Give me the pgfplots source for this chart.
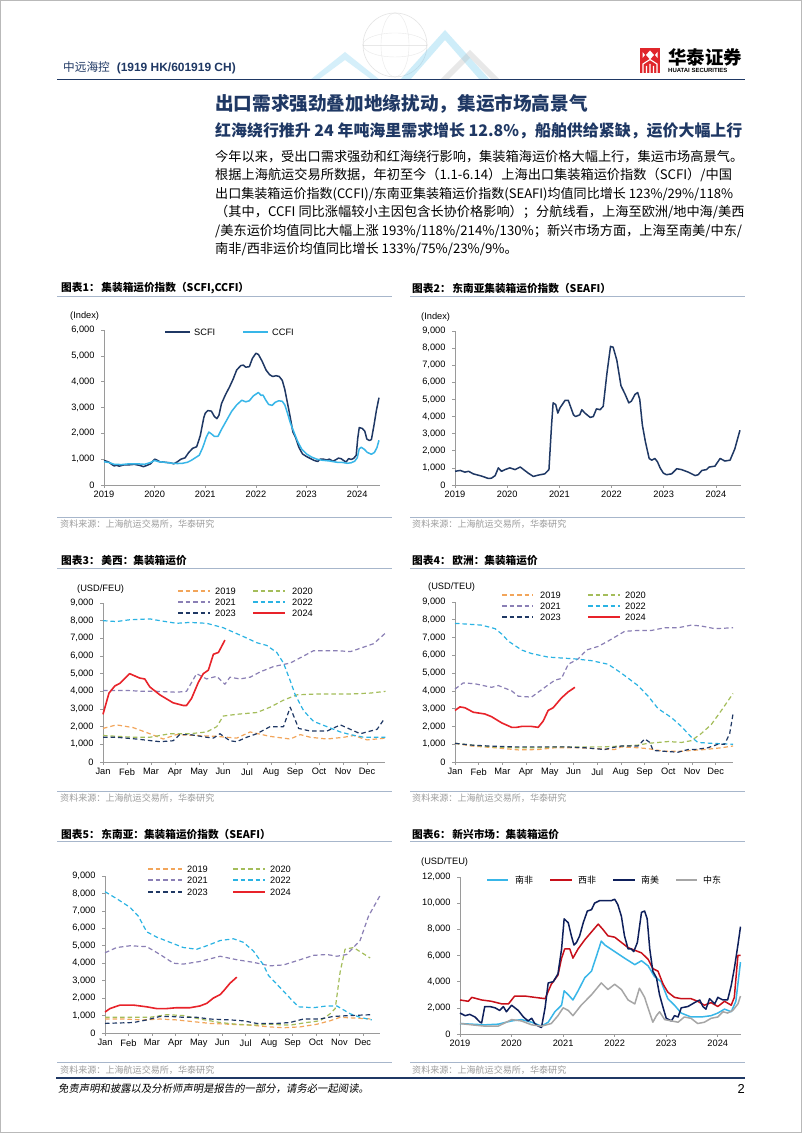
\documentclass[border=0pt]{standalone}
\usepackage{pgfplots}
\pgfplotsset{compat=1.18}
\usepackage{fontspec}
\setmainfont{Liberation Sans}
\newfontfamily\cjk{Noto Sans CJK SC}
\newfontfamily\cjkit[FakeSlant=0.18]{Noto Sans CJK SC}
\definecolor{navy}{HTML}{1F3864}
\definecolor{dnavy}{HTML}{0E1F5B}
\definecolor{lblue}{HTML}{38B6E8}
\definecolor{corange}{HTML}{F2A55A}
\definecolor{cgreen}{HTML}{A4BD5A}
\definecolor{cpurple}{HTML}{8A7FB5}
\definecolor{ccyan}{HTML}{2AB3E3}
\definecolor{cred}{HTML}{E8232A}
\definecolor{wred}{HTML}{C8101A}
\definecolor{cgray}{HTML}{A6A6A6}
\definecolor{axgray}{HTML}{9A9A9A}
\definecolor{tline}{HTML}{A7B6CB}
\definecolor{srcgray}{HTML}{9C9C9C}
\definecolor{hred}{HTML}{E0262B}
\newcommand\fs[1]{\fontsize{#1}{#1}\selectfont}
\newcommand\tf{\fontsize{9.3}{10}\selectfont}
\tikzset{dsh/.style={line width=1.2bp, dash pattern=on 4.5bp off 3bp}}
\pgfplotsset{
  base/.style={
    scale only axis, anchor=south west,
    axis lines=left, axis line style={-, draw=axgray, line width=0.6bp},
    tick align=outside, major tick length=3bp,
    tick style={draw=axgray, line width=0.6bp},
    ticklabel style={font=\tf, text=black},
    /pgf/number format/assume math mode=true,
    scaled ticks=false,
    yticklabel style={/pgf/number format/fixed, /pgf/number format/1000 sep={,}, xshift=-3bp},
    enlargelimits=false, clip=false,
    every axis plot/.append style={line join=round},
  },
  yr/.style={xtick={2019,...,2024}, xticklabel style={/pgf/number format/1000 sep={}}},
  mo/.style={xtick={0,...,11}, xticklabels={Jan,Feb,Mar,Apr,May,Jun,Jul,Aug,Sep,Oct,Nov,Dec}},
}
\begin{document}
\begin{tikzpicture}[x=1bp,y=1bp]
\path[use as bounding box, fill=white] (0,0) rectangle (802,1133);
\draw[gray!55, line width=0.8bp] (0.4,0.4) rectangle (801.6,1132.6);

\begin{scope}[yshift=1133bp, y=-1bp, every node/.style={inner sep=0pt}]
% decoration (globe)
\begin{scope}[opacity=0.35]
\draw[gray!60, line width=0.6bp] (395,45) circle (32);
\draw[gray!50, line width=0.4bp] (395,45) ellipse (14 and 32);
\draw[gray!50, line width=0.4bp] (395,45) ellipse (32 and 12);
\draw[gray!50, line width=0.4bp] (363,45)--(427,45);
\fill[lblue!60] (310,80)--(345,52)--(380,80)--(372,80)--(345,60)--(318,80)--cycle;
\fill[lblue!70] (400,80)--(445,30)--(490,80)--(480,80)--(445,40)--(410,80)--cycle;
\fill[gray!50] (440,80)--(470,50)--(500,80)--(492,80)--(470,58)--(448,80)--cycle;
\end{scope}
% header
\node[anchor=west, text=navy] at (63,68) {{\cjk\fs{11.7}中远海控}\hspace{7bp}{\fs{12}\bfseries(1919 HK/601919 CH)}};
\draw[navy, line width=1.8bp] (57,79.5)--(745,79.5);
% logo
\fill[hred] (640,48) rectangle (660,73);
\fill[white] (650,50.5)--(654,55)--(650,59.5)--(646,55)--cycle;
\fill[white] (642.5,52)--(645,55)--(642.5,58)--cycle;
\fill[white] (657.5,52)--(655,55)--(657.5,58)--cycle;
\draw[white, line width=1.1bp] (643,73)--(643,64)--(650,59.5)--(657,64)--(657,73) (646.5,73)--(646.5,66) (650,73)--(650,64) (653.5,73)--(653.5,66);
\node[anchor=west] at (668,57) {\cjk\bfseries\fs{18.5}华泰证券};
\node[anchor=west] at (668,70.5) {\bfseries\fs{6}HUATAI SECURITIES};
% titles
\node[anchor=west, text=navy] at (215,104) {\cjk\bfseries\fs{18.7}出口需求强劲叠加地缘扰动，集运市场高景气};
\node[anchor=west, text=navy] at (215,131) {\cjk\bfseries\fs{16}红海绕行推升 24 年吨海里需求增长 12.8\%，船舶供给紧缺，运价大幅上行};
% body
\begin{scope}[every node/.append style={anchor=west}]
\node at (215,157) {\cjk\fs{13.25}今年以来，受出口需求强劲和红海绕行影响，集装箱海运价格大幅上行，集运市场高景气。};
\node at (215,175.5) {\cjk\fs{13.25}根据上海航运交易所数据，年初至今（1.1-6.14）上海出口集装箱运价指数（SCFI）/中国};
\node at (215,194) {\cjk\fs{13.1}出口集装箱运价指数(CCFI)/东南亚集装箱运价指数(SEAFI)均值同比增长 123\%/29\%/118\%};
\node at (215,212.5) {\cjk\fs{13.25}（其中，CCFI 同比涨幅较小主因包含长协价格影响）；分航线看，上海至欧洲/地中海/美西};
\node at (215,231) {\cjk\fs{13.25}/美东运价均值同比大幅上涨 193\%/118\%/214\%/130\%；新兴市场方面，上海至南美/中东/};
\node at (215,249.5) {\cjk\fs{13.25}南非/西非运价均值同比增长 133\%/75\%/23\%/9\%。};
% chart titles
\node at (61,288) {\cjk\bfseries\fs{10.7}图表1：\,集装箱运价指数（SCFI,CCFI）};
\node at (412,288) {\cjk\bfseries\fs{10.7}图表2：\,东南亚集装箱运价指数（SEAFI）};
\node at (61,561) {\cjk\bfseries\fs{10.7}图表3：\,美西：集装箱运价};
\node at (412,561) {\cjk\bfseries\fs{10.7}图表4：\,欧洲：集装箱运价};
\node at (61,834) {\cjk\bfseries\fs{10.7}图表5：\,东南亚：集装箱运价指数（SEAFI）};
\node at (412,834) {\cjk\bfseries\fs{10.7}图表6：\,新兴市场：集装箱运价};
% sources
\foreach \yy in {524.5,798,1070} {
  \node[text=srcgray] at (60,\yy) {\cjk\fs{9.1}资料来源：上海航运交易所，华泰研究};
  \node[text=srcgray] at (412,\yy) {\cjk\fs{9.1}资料来源：上海航运交易所，华泰研究};
}
% unit labels
\node at (70,316) {\tf(Index)};
\node at (421,317) {\tf(Index)};
\node at (77,589) {\tf(USD/FEU)};
\node at (428,587) {\tf(USD/TEU)};
\node at (421,862) {\tf(USD/TEU)};
\end{scope}
\foreach \yy in {296,568,841} {
  \draw[tline, line width=0.9bp] (57,\yy)--(392,\yy);
  \draw[tline, line width=0.9bp] (410,\yy)--(745,\yy);
}
\foreach \yy in {517,791,1062} {
  \draw[tline, line width=0.9bp] (57,\yy)--(392,\yy);
  \draw[tline, line width=0.9bp] (410,\yy)--(745,\yy);
}
% footer
\draw[navy, line width=2bp] (56,1078)--(745,1078);
\node[anchor=west] at (58,1089) {\cjkit\fs{10.4}免责声明和披露以及分析师声明是报告的一部分，请务必一起阅读。};
\node[anchor=east] at (745,1089) {\fs{13}2};
% legends chart 1
\draw[navy, line width=2bp] (165,332)--(190,332); \node[anchor=west] at (194,332) {\tf SCFI};
\draw[lblue, line width=2bp] (243,332)--(268,332); \node[anchor=west] at (272,332) {\tf CCFI};
% legend chart 3
\draw[corange, dsh] (178,591)--(210,591); \node[anchor=west] at (215,591) {\tf 2019};
\draw[cpurple, dsh] (178,602)--(210,602); \node[anchor=west] at (215,602) {\tf 2021};
\draw[navy, dsh] (178,613)--(210,613); \node[anchor=west] at (215,613) {\tf 2023};
\draw[cgreen, dsh] (253,591)--(285,591); \node[anchor=west] at (292,591) {\tf 2020};
\draw[ccyan, dsh] (253,602)--(285,602); \node[anchor=west] at (292,602) {\tf 2022};
\draw[cred, line width=1.6bp] (253,613)--(285,613); \node[anchor=west] at (292,613) {\tf 2024};
% legend chart 4
\draw[corange, dsh] (502,595)--(533,595); \node[anchor=west] at (540,595) {\tf 2019};
\draw[cpurple, dsh] (502,606)--(533,606); \node[anchor=west] at (540,606) {\tf 2021};
\draw[navy, dsh] (502,617)--(533,617); \node[anchor=west] at (540,617) {\tf 2023};
\draw[cgreen, dsh] (588,595)--(620,595); \node[anchor=west] at (625,595) {\tf 2020};
\draw[ccyan, dsh] (588,606)--(620,606); \node[anchor=west] at (625,606) {\tf 2022};
\draw[cred, line width=1.6bp] (588,617)--(620,617); \node[anchor=west] at (625,617) {\tf 2024};
% legend chart 5
\draw[corange, dsh] (148,869)--(182,869); \node[anchor=west] at (187,869) {\tf 2019};
\draw[cpurple, dsh] (148,880)--(182,880); \node[anchor=west] at (187,880) {\tf 2021};
\draw[navy, dsh] (148,892)--(182,892); \node[anchor=west] at (187,892) {\tf 2023};
\draw[cgreen, dsh] (233,869)--(265,869); \node[anchor=west] at (270,869) {\tf 2020};
\draw[ccyan, dsh] (233,880)--(265,880); \node[anchor=west] at (270,880) {\tf 2022};
\draw[cred, line width=1.6bp] (233,892)--(265,892); \node[anchor=west] at (270,892) {\tf 2024};
% legend chart 6
\draw[lblue, line width=2bp] (487,880)--(508,880); \node[anchor=west] at (515,880) {\cjk\fs{9}南非};
\draw[wred, line width=2bp] (550,880)--(572,880); \node[anchor=west] at (578,880) {\cjk\fs{9}西非};
\draw[dnavy, line width=2bp] (613,880)--(635,880); \node[anchor=west] at (641,880) {\cjk\fs{9}南美};
\draw[cgray, line width=2bp] (676,880)--(697,880); \node[anchor=west] at (703,880) {\cjk\fs{9}中东};
\end{scope}

% ---------- Chart 1 ----------
\begin{axis}[base, yr, at={(104bp,648bp)}, width=276bp, height=155bp,
  xmin=2019, xmax=2024.45, ymin=0, ymax=6000, ytick={0,1000,...,6000}]
\addplot[navy, line width=1.5bp] coordinates {(2019.00,950)(2019.05,920)(2019.10,880)(2019.15,800)(2019.20,740)(2019.25,760)(2019.30,730)(2019.40,780)(2019.50,780)(2019.60,800)(2019.70,760)(2019.78,710)(2019.85,760)(2019.92,820)(2020.00,1000)(2020.05,960)(2020.10,900)(2020.20,880)(2020.30,860)(2020.38,820)(2020.45,900)(2020.52,1000)(2020.60,1050)(2020.67,1250)(2020.75,1420)(2020.83,1480)(2020.90,1900)(2020.97,2600)(2021.00,2780)(2021.05,2880)(2021.12,2860)(2021.18,2650)(2021.23,2570)(2021.27,2700)(2021.32,3150)(2021.40,3500)(2021.48,3800)(2021.55,4100)(2021.62,4450)(2021.70,4620)(2021.75,4640)(2021.80,4560)(2021.87,4580)(2021.93,4900)(2022.00,5100)(2022.05,5050)(2022.12,4800)(2022.20,4450)(2022.27,4270)(2022.33,4200)(2022.40,4230)(2022.46,4200)(2022.52,4050)(2022.57,3700)(2022.62,3200)(2022.67,2700)(2022.73,2050)(2022.78,1850)(2022.85,1450)(2022.92,1200)(2023.00,1100)(2023.08,1020)(2023.15,950)(2023.22,910)(2023.27,1000)(2023.33,1000)(2023.40,970)(2023.45,1000)(2023.52,920)(2023.58,980)(2023.63,1040)(2023.68,1020)(2023.73,950)(2023.78,890)(2023.83,1020)(2023.88,990)(2023.93,1030)(2023.98,1150)(2024.01,1800)(2024.04,2220)(2024.10,2190)(2024.15,2080)(2024.19,1780)(2024.24,1720)(2024.28,1760)(2024.33,2300)(2024.38,2900)(2024.43,3380)};
\addplot[lblue, line width=1.5bp] coordinates {(2019.00,900)(2019.10,870)(2019.20,800)(2019.35,790)(2019.50,820)(2019.65,820)(2019.80,800)(2019.92,870)(2020.00,950)(2020.08,900)(2020.20,880)(2020.35,840)(2020.45,830)(2020.55,840)(2020.65,880)(2020.72,950)(2020.80,1050)(2020.88,1150)(2020.95,1450)(2021.02,1850)(2021.07,2050)(2021.12,1980)(2021.18,1880)(2021.25,1880)(2021.32,2150)(2021.42,2500)(2021.52,2850)(2021.62,3100)(2021.72,3280)(2021.80,3220)(2021.87,3260)(2021.95,3450)(2022.05,3580)(2022.10,3470)(2022.14,3480)(2022.19,3300)(2022.25,3120)(2022.32,3080)(2022.38,3200)(2022.45,3260)(2022.52,3240)(2022.57,3100)(2022.62,2800)(2022.68,2400)(2022.75,2050)(2022.82,1700)(2022.90,1400)(2023.00,1200)(2023.10,1080)(2023.20,1000)(2023.30,960)(2023.45,930)(2023.60,880)(2023.72,870)(2023.80,840)(2023.88,860)(2023.95,920)(2024.00,1050)(2024.04,1400)(2024.08,1460)(2024.14,1380)(2024.20,1260)(2024.28,1190)(2024.34,1260)(2024.39,1450)(2024.43,1730)};
\end{axis}

% ---------- Chart 2 ----------
\begin{axis}[base, yr, at={(455bp,648bp)}, width=286bp, height=154bp,
  xmin=2019, xmax=2024.48, ymin=0, ymax=9000, ytick={0,1000,...,9000}]
\addplot[navy, line width=1.5bp] coordinates {(2019.00,800)(2019.10,850)(2019.19,750)(2019.26,800)(2019.35,650)(2019.51,520)(2019.64,380)(2019.70,400)(2019.77,550)(2019.83,1000)(2019.89,800)(2019.96,900)(2020.05,1000)(2020.15,900)(2020.25,1050)(2020.40,700)(2020.50,500)(2020.60,580)(2020.72,650)(2020.80,900)(2020.85,3500)(2020.88,4800)(2020.93,4700)(2020.97,4200)(2021.01,4500)(2021.11,4950)(2021.17,4950)(2021.27,4100)(2021.31,4000)(2021.39,4100)(2021.43,4400)(2021.49,4200)(2021.59,3950)(2021.65,4000)(2021.71,4450)(2021.78,4400)(2021.84,4600)(2021.91,6500)(2021.98,8100)(2022.03,8050)(2022.10,7300)(2022.18,5800)(2022.26,5300)(2022.33,4800)(2022.38,4900)(2022.45,5300)(2022.50,5400)(2022.54,5000)(2022.59,3500)(2022.65,2500)(2022.72,1550)(2022.77,1450)(2022.83,1550)(2022.88,1350)(2022.93,1000)(2022.99,700)(2023.05,600)(2023.15,650)(2023.25,950)(2023.34,900)(2023.47,750)(2023.60,550)(2023.66,600)(2023.73,850)(2023.82,900)(2023.87,1050)(2023.98,1100)(2024.08,1550)(2024.17,1400)(2024.27,1450)(2024.36,2100)(2024.46,3200)};
\end{axis}

% ---------- Chart 3 ----------
\begin{axis}[base, mo, at={(103bp,371bp)}, width=282bp, height=159bp,
  xmin=0, xmax=11.75, ymin=0, ymax=9000, ytick={0,1000,...,9000}]
\addplot[corange, dsh] coordinates {(0,1900)(0.56,2100)(1.25,1950)(1.95,1600)(2.51,1300)(3.06,1550)(3.90,1500)(4.74,1450)(5.57,1350)(6.13,1700)(6.96,1450)(7.80,1300)(8.22,1550)(8.64,1400)(9.33,1300)(10.03,1400)(10.45,1500)(11.00,1250)(11.77,1350)};
\addplot[cgreen, dsh] coordinates {(0,1500)(1.25,1400)(1.95,1400)(2.37,1500)(2.79,1600)(3.62,1600)(4.32,1700)(4.74,2000)(5.01,2600)(5.57,2700)(6.41,2800)(6.96,3100)(7.52,3500)(8.08,3800)(8.91,3850)(10.31,3850)(11.14,3900)(11.77,4000)};
\addplot[cpurple, dsh] coordinates {(0,4050)(0.97,4050)(1.67,4000)(2.23,4000)(3.06,3950)(3.48,4000)(3.90,5000)(4.32,4700)(4.74,4850)(5.08,4400)(5.29,4800)(5.71,4700)(6.13,4800)(6.55,5100)(7.10,5400)(7.80,5600)(8.36,6000)(8.77,6300)(9.75,6300)(10.31,6250)(10.86,6500)(11.28,6700)(11.77,7300)};
\addplot[ccyan, dsh] coordinates {(0,8000)(0.56,7950)(1.11,8050)(1.95,8100)(2.37,8000)(3.06,7850)(3.62,7900)(4.32,7850)(5.01,7600)(5.85,7100)(6.41,6750)(6.82,6600)(7.24,6200)(7.52,5600)(7.80,4600)(8.01,3800)(8.36,2900)(8.77,2300)(9.33,2000)(9.89,1700)(10.31,1550)(10.86,1400)(11.77,1400)};
\addplot[navy, dsh] coordinates {(0,1400)(0.56,1400)(1.39,1300)(2.37,1150)(2.92,1200)(3.20,1550)(3.62,1550)(4.32,1400)(4.60,1350)(4.87,1600)(5.29,1200)(5.57,1150)(5.99,1400)(6.41,1600)(6.96,2000)(7.52,2000)(7.80,3100)(8.15,1900)(8.64,1750)(9.33,1750)(9.89,2100)(10.72,1600)(11.42,1850)(11.70,2400)};
\addplot[cred, line width=1.6bp] coordinates {(0,2700)(0.25,3900)(0.49,4300)(0.70,4450)(1.11,5000)(1.53,4750)(1.74,4700)(1.95,4250)(2.37,3800)(2.92,3350)(3.34,3200)(3.48,3200)(3.69,3600)(3.97,4500)(4.18,5000)(4.39,5200)(4.60,6100)(4.81,6200)(5.08,6900)};
\end{axis}

% ---------- Chart 4 ----------
\begin{axis}[base, mo, at={(455bp,371bp)}, width=278bp, height=160bp,
  xmin=0, xmax=11.73, ymin=0, ymax=9000, ytick={0,1000,...,9000}]
\addplot[corange, dsh] coordinates {(0,1050)(0.7,900)(1.69,800)(2.67,680)(3.51,700)(4.21,800)(5.2,800)(6.04,750)(6.74,700)(7.02,850)(7.72,800)(8.15,750)(8.85,600)(9.55,600)(9.97,650)(10.53,700)(11.24,800)(11.73,900)};
\addplot[cgreen, dsh] coordinates {(0,1050)(0.70,950)(1.54,850)(2.53,800)(3.51,800)(4.35,850)(5.20,850)(6.18,850)(7.16,900)(7.72,950)(8.15,1050)(9.0,1150)(9.55,1100)(9.97,1200)(10.39,1600)(10.81,2100)(11.24,2900)(11.73,3850)};
\addplot[cpurple, dsh] coordinates {(0,4100)(0.35,4450)(0.84,4400)(1.54,4200)(1.83,4300)(2.39,4000)(2.67,3700)(3.23,3650)(3.79,4200)(4.21,4600)(4.49,4700)(4.78,5500)(5.20,5800)(5.55,6300)(6.04,6500)(6.46,6800)(7.16,7350)(7.72,7400)(8.29,7400)(8.85,7550)(9.41,7550)(9.97,7700)(10.39,7650)(10.96,7500)(11.73,7550)};
\addplot[ccyan, dsh] coordinates {(0,7800)(0.56,7750)(1.12,7700)(1.69,7500)(1.97,7200)(2.25,6800)(2.81,6300)(3.23,6100)(3.93,5900)(4.49,5850)(5.06,5800)(5.76,5700)(6.46,5500)(7.02,5000)(7.72,4300)(8.15,3700)(8.57,3000)(9.13,2500)(9.55,2000)(9.97,1400)(10.25,1100)(10.81,1050)(11.73,1000)};
\addplot[navy, dsh] coordinates {(0,1050)(0.7,950)(1.4,900)(2.53,850)(3.51,850)(4.63,850)(5.48,800)(6.32,700)(6.6,800)(7.02,900)(7.72,900)(8.01,1300)(8.22,1100)(8.36,650)(8.85,600)(9.41,550)(9.83,700)(10.11,700)(10.67,800)(11.10,1000)(11.38,1000)(11.59,1600)(11.73,2700)};
\addplot[cred, line width=1.6bp] coordinates {(0,2900)(0.21,3100)(0.42,3050)(0.77,2800)(1.26,2700)(1.54,2550)(1.97,2200)(2.39,1950)(2.60,1950)(2.81,2000)(3.23,2000)(3.51,1950)(3.72,2300)(3.93,2900)(4.14,3050)(4.49,3600)(4.78,3950)(5.06,4200)};
\end{axis}

% ---------- Chart 5 ----------
\begin{axis}[base, mo, at={(105bp,100bp)}, width=275bp, height=157bp,
  xmin=0, xmax=11.73, ymin=0, ymax=9000, ytick={0,1000,...,9000}]
\addplot[corange, dsh] coordinates {(0,800)(0.78,800)(1.64,750)(2.35,800)(3.06,750)(3.77,650)(4.48,550)(5.33,500)(6.19,450)(7.04,350)(7.61,300)(8.32,350)(9.03,500)(9.6,700)(10.03,900)(10.74,850)(11.38,800)};
\addplot[cgreen, dsh] coordinates {(0,900)(1.07,900)(1.92,900)(2.63,1050)(3.34,1000)(4.05,800)(4.91,600)(5.62,500)(6.33,450)(7.04,500)(7.89,450)(8.6,600)(9.17,700)(9.6,1100)(9.82,1400)(10.03,3500)(10.24,4800)(10.6,4900)(11.31,4300)};
\addplot[cpurple, dsh] coordinates {(0,4600)(0.5,4900)(1.07,5000)(1.78,4950)(2.35,4500)(2.92,4000)(3.34,3950)(4.05,4100)(4.91,4400)(5.62,4200)(6.33,4050)(7.04,3850)(7.61,3900)(8.32,4200)(8.89,4450)(9.46,4500)(9.89,4400)(10.31,4500)(10.88,5300)(11.24,6700)(11.74,7900)};
\addplot[ccyan, dsh] coordinates {(0,8100)(0.5,7700)(1.07,7200)(1.42,6700)(1.78,5800)(2.2,5500)(2.77,5200)(3.34,4900)(3.91,4800)(4.34,5000)(4.91,5300)(5.48,5400)(5.9,5200)(6.33,4700)(6.76,3900)(6.97,3300)(7.47,2600)(7.89,2000)(8.25,1500)(8.89,1450)(9.46,1550)(9.89,1550)(10.46,1100)(10.88,900)(11.38,750)};
\addplot[navy, dsh] coordinates {(0,550)(1.21,600)(1.78,750)(2.35,950)(2.77,950)(3.34,900)(3.91,900)(4.48,800)(5.33,750)(5.9,700)(6.47,550)(7.33,550)(7.89,600)(8.46,800)(9.17,800)(9.74,950)(10.46,1000)(11.38,1050)};
\addplot[cred, line width=1.6bp] coordinates {(0,1200)(0.21,1400)(0.64,1600)(1.21,1600)(1.78,1500)(2.2,1400)(2.63,1400)(3.06,1450)(3.63,1450)(4.05,1550)(4.34,1700)(4.62,2000)(4.91,2200)(5.05,2400)(5.33,2850)(5.62,3200)};
\end{axis}

% ---------- Chart 6 ----------
\begin{axis}[base, yr, at={(460bp,99bp)}, width=281bp, height=157bp,
  xmin=2019, xmax=2024.45, ymin=0, ymax=12000, ytick={0,2000,...,12000}]
\addplot[lblue, line width=1.5bp] coordinates {(2019.00,800)(2019.23,750)(2019.48,700)(2019.74,750)(2020.00,1000)(2020.19,1100)(2020.39,900)(2020.58,600)(2020.71,900)(2020.84,1700)(2020.97,2200)(2021.02,3300)(2021.10,3000)(2021.19,2600)(2021.29,3300)(2021.42,4300)(2021.55,4800)(2021.65,6000)(2021.74,7100)(2021.81,6800)(2022.00,6300)(2022.19,5800)(2022.39,5300)(2022.52,5600)(2022.65,5200)(2022.77,4400)(2022.90,4000)(2023.03,2700)(2023.16,2200)(2023.29,1600)(2023.48,1300)(2023.68,1300)(2023.87,1400)(2024.00,1600)(2024.13,1900)(2024.26,1700)(2024.35,2500)(2024.44,5500)};
\addplot[wred, line width=1.5bp] coordinates {(2019.00,2600)(2019.16,2500)(2019.23,2800)(2019.42,2600)(2019.61,2500)(2019.81,2300)(2019.94,2300)(2020.06,2900)(2020.26,2900)(2020.45,2800)(2020.65,2700)(2020.77,3800)(2020.90,4500)(2020.97,5800)(2021.03,6500)(2021.13,6500)(2021.19,5800)(2021.29,6500)(2021.42,7200)(2021.55,7800)(2021.68,8400)(2021.77,8000)(2021.87,7500)(2022.00,7400)(2022.13,7000)(2022.26,6600)(2022.39,6400)(2022.52,6200)(2022.65,5700)(2022.74,5000)(2022.84,4800)(2022.94,3800)(2023.03,3200)(2023.16,2800)(2023.29,2700)(2023.48,2700)(2023.61,2500)(2023.74,2200)(2023.87,2400)(2024.00,2100)(2024.13,2500)(2024.26,2200)(2024.32,2800)(2024.39,6000)(2024.44,6000)};
\addplot[dnavy, line width=1.5bp] coordinates {(2019.00,1600)(2019.10,1400)(2019.19,1500)(2019.29,1300)(2019.39,900)(2019.42,850)(2019.48,2100)(2019.58,2100)(2019.68,2000)(2019.77,1800)(2019.84,2100)(2019.90,1700)(2020.00,2200)(2020.13,1800)(2020.23,1300)(2020.32,1000)(2020.39,1200)(2020.45,800)(2020.52,600)(2020.58,500)(2020.65,2000)(2020.71,3900)(2020.81,4000)(2020.90,4600)(2020.97,6500)(2021.02,8800)(2021.10,8500)(2021.16,7500)(2021.21,6800)(2021.26,7000)(2021.32,7500)(2021.39,8500)(2021.47,9400)(2021.55,9500)(2021.61,10000)(2021.71,10200)(2021.81,10200)(2021.94,10200)(2022.00,10300)(2022.06,9900)(2022.13,9000)(2022.19,7500)(2022.26,6500)(2022.32,6500)(2022.37,6300)(2022.44,7000)(2022.52,9300)(2022.58,9400)(2022.63,8800)(2022.68,6500)(2022.74,4800)(2022.81,4300)(2022.87,3000)(2022.94,2000)(2023.00,1200)(2023.10,1000)(2023.16,1400)(2023.23,1300)(2023.29,2000)(2023.42,2100)(2023.55,2400)(2023.65,2600)(2023.71,2100)(2023.77,1900)(2023.84,2700)(2023.94,2300)(2024.00,2800)(2024.10,2600)(2024.19,2600)(2024.26,3700)(2024.32,5000)(2024.39,6800)(2024.44,8200)};
\addplot[cgray, line width=1.5bp] coordinates {(2019.00,800)(2019.23,700)(2019.48,600)(2019.74,600)(2020.00,1100)(2020.19,1000)(2020.39,700)(2020.58,600)(2020.77,800)(2020.90,1400)(2021.00,2000)(2021.10,1800)(2021.19,1400)(2021.35,2200)(2021.55,3000)(2021.74,3900)(2021.87,3400)(2022.00,3800)(2022.13,3400)(2022.26,2600)(2022.39,2300)(2022.48,3500)(2022.58,2800)(2022.68,1600)(2022.74,900)(2022.81,1400)(2022.87,1700)(2022.97,1100)(2023.10,1000)(2023.23,900)(2023.35,1300)(2023.48,1200)(2023.61,800)(2023.74,900)(2023.87,1200)(2024.00,1300)(2024.10,1700)(2024.19,1600)(2024.29,1800)(2024.39,2300)(2024.44,2900)};
\end{axis}
\end{tikzpicture}
\end{document}
